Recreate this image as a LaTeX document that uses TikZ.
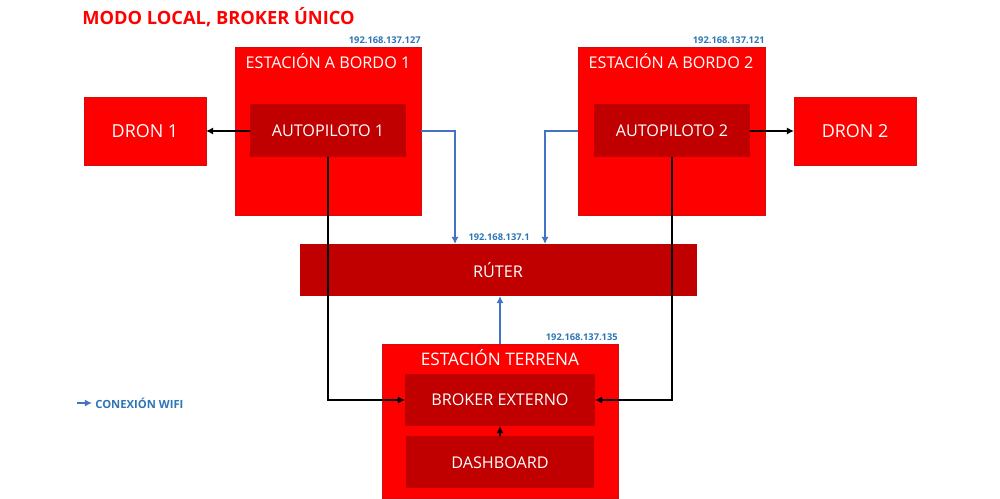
\documentclass[tikz,border=0pt]{standalone}
\usepackage{fontspec}
\setmainfont{Open Sans}
\usetikzlibrary{arrows.meta}
\definecolor{rojo}{HTML}{FF0000}
\definecolor{oscuro}{HTML}{C00000}
\definecolor{borde}{HTML}{D01010}
\definecolor{azul}{HTML}{4472C4}
\definecolor{ipazul}{HTML}{2E75B6}
\begin{document}
\begin{tikzpicture}[x=0.02cm,y=-0.02cm,
  outer/.style={fill=rojo,draw=borde,line width=0.4pt},
  inner/.style={fill=oscuro,draw=none},
  lbl/.style={text=white,font=\fontsize{9.2}{11}\selectfont},
  ip/.style={text=ipazul,font=\bfseries\fontsize{5.3}{6}\selectfont,anchor=south east,inner sep=0pt},
  blk/.style={draw=black,line width=0.7pt,-{Latex[length=4pt,width=4pt]}},
  wifi/.style={draw=azul,line width=0.8pt,-{Latex[length=4pt,width=4pt]}}]
\useasboundingbox (0,0) rectangle (1000,499);
% title
\node[anchor=west,text=rojo,font=\bfseries\fontsize{10.4}{13}\selectfont,inner sep=0pt] (title) at (82,17) {MODO LOCAL, BROKER ÚNICO};
% estacion 1
\path[outer] (235,47) rectangle (421,215);
\node[lbl] (e1) at (328,61) {ESTACIÓN A BORDO 1};
\node[ip] (ip1) at (421,44) {192.168.137.127};
\path[inner] (250,104) rectangle (406,157);
\node[lbl] (ap1) at (328,131) {AUTOPILOTO 1};
\coordinate (ap1w) at (250,131);
\coordinate (ap1s) at (328,157);
% dron 1
\path[outer] (84,97) rectangle (206,165);
\node[lbl,font=\fontsize{10.2}{12}\selectfont] (d1) at (145,131) {DRON 1};
\coordinate (d1e) at (206,131);
% estacion 2
\path[outer] (578,47) rectangle (765,215);
\node[lbl] (e2) at (671,61) {ESTACIÓN A BORDO 2};
\node[ip] (ip2) at (765,44) {192.168.137.121};
\path[inner] (594,104) rectangle (750,157);
\node[lbl] (ap2) at (672,131) {AUTOPILOTO 2};
\coordinate (ap2e) at (750,131);
\coordinate (ap2s) at (672,157);
% dron 2
\path[outer] (794,97) rectangle (916,165);
\node[lbl,font=\fontsize{10.2}{12}\selectfont] (d2) at (855,131) {DRON 2};
\coordinate (d2w) at (794,131);
% router
\path[inner] (300,244) rectangle (697,296);
\node[lbl] (rt) at (498,270) {RÚTER};
\node[ip] (ipr) at (530,241) {192.168.137.1};
% terrena
\path[outer] (382,344) rectangle (618,498);
\node[lbl,font=\fontsize{9.8}{12}\selectfont] (et) at (500,358) {ESTACIÓN TERRENA};
\node[ip] (ipt) at (618,341) {192.168.137.135};
\path[inner] (405,374) rectangle (595,426);
\node[lbl] (bk) at (500,400) {BROKER EXTERNO};
\path[inner] (406,436) rectangle (594,488);
\node[lbl] (db) at (500,463) {DASHBOARD};
% black connectors
\draw[blk] (ap1w) -- (d1e);
\draw[blk] (ap2e) -- (d2w);
\draw[blk] (ap1s) |- (405,400);
\draw[blk] (ap2s) |- (595,400);
\draw[blk] (500,436) -- (500,426);
% wifi connectors
\draw[wifi] (421,131) -| (455,244);
\draw[wifi] (578,131) -| (545,244);
\draw[wifi] (500,344) -- (500,296);
% legend
\draw[wifi] (77,403) -- (92,403);
\node[anchor=west,text=ipazul,font=\bfseries\fontsize{6.4}{7}\selectfont,inner sep=0pt] (leg) at (95,403) {CONEXIÓN WIFI};
\end{tikzpicture}
\end{document}
